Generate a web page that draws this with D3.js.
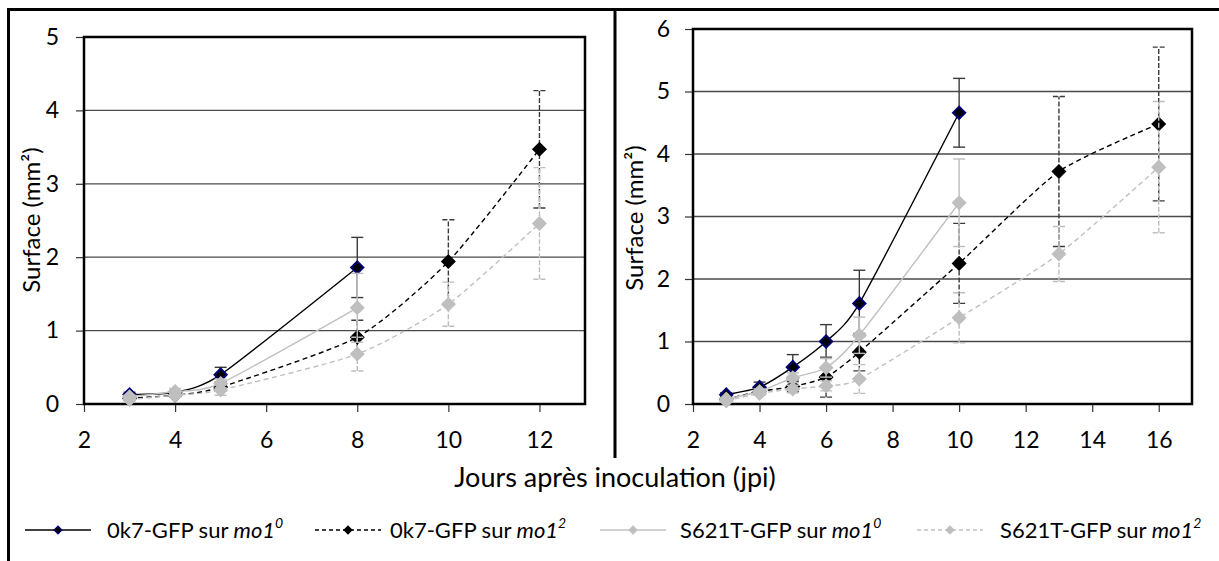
<!DOCTYPE html>
<html>
<head>
<meta charset="utf-8">
<script src="https://cdn.jsdelivr.net/npm/d3@7"></script>
<style>
  body { margin: 0; background: #fff; }
  svg { display: block; font-family: Lato, "Open Sans", sans-serif; }
</style>
</head>
<body>
<svg id="chart" width="1219" height="561"></svg>
<script>
// ---- data ----
// left panel
let leftDaysA = [3, 4, 5, 8];
let leftDaysB = [3, 4, 5, 8, 10, 12];
let left0k7Mo10 = [0.13, 0.16, 0.40, 1.86];
let left0k7Mo10Err = [0.03, 0.02, 0.10, 0.41];
let left0k7Mo12 = [0.08, 0.12, 0.23, 0.91, 1.94, 3.47];
let left0k7Mo12Err = [0.02, 0.03, 0.05, 0.23, 0.57, 0.80];
let leftS621TMo10 = [0.10, 0.17, 0.28, 1.31];
let leftS621TMo10Err = [0.02, 0.04, 0.06, 0.47];
let leftS621TMo12 = [0.06, 0.12, 0.19, 0.68, 1.36, 2.46];
let leftS621TMo12Err = [0.02, 0.03, 0.07, 0.23, 0.30, 0.76];

// right panel
let rightDaysA = [3, 4, 5, 6, 7, 10];
let rightDaysB = [3, 4, 5, 6, 7, 10, 13, 16];
let right0k7Mo10 = [0.15, 0.27, 0.59, 1.00, 1.61, 4.66];
let right0k7Mo10Err = [0.03, 0.08, 0.20, 0.27, 0.53, 0.55];
let right0k7Mo12 = [0.08, 0.20, 0.28, 0.43, 0.83, 2.25, 3.72, 4.48];
let right0k7Mo12Err = [0.02, 0.05, 0.08, 0.32, 0.30, 0.64, 1.20, 1.23];
let rightS621TMo10 = [0.08, 0.20, 0.42, 0.58, 1.10, 3.22];
let rightS621TMo10Err = [0.02, 0.04, 0.08, 0.15, 0.29, 0.70];
let rightS621TMo12 = [0.05, 0.17, 0.24, 0.29, 0.40, 1.38, 2.40, 3.79];
let rightS621TMo12Err = [0.02, 0.03, 0.06, 0.08, 0.23, 0.40, 0.44, 1.05];

let leftXTicks = [2, 4, 6, 8, 10, 12];
let leftYTicks = [0, 1, 2, 3, 4, 5];
let rightXTicks = [2, 4, 6, 8, 10, 12, 14, 16];
let rightYTicks = [0, 1, 2, 3, 4, 5, 6];

let seriesNames = ['0k7-GFP sur ', '0k7-GFP sur ', 'S621T-GFP sur ', 'S621T-GFP sur '];
let seriesSup = ['0', '2', '0', '2'];

// line / marker styles per series
let styles = [
  { line: '#000', dash: null, fill: '#000', stroke: '#00007a', err: '#3a3a3a', errDash: null },
  { line: '#000', dash: '5,3.5', fill: '#000', stroke: '#000', err: '#3a3a3a', errDash: '5,2' },
  { line: '#c0c0c0', dash: null, fill: '#bfbfbf', stroke: '#bfbfbf', err: '#bdbdbd', errDash: null },
  { line: '#c0c0c0', dash: '5,3.5', fill: '#bfbfbf', stroke: '#bfbfbf', err: '#bdbdbd', errDash: '5,2' }
];

function pts(days, vals, errs) {
  return d3.zip(days, vals, errs).map(d => ({ day: d[0], val: d[1], err: d[2] }));
}

let svg = d3.select('#chart');
svg.append('rect').attr('width', 1219).attr('height', 561).attr('fill', '#fff');

// outer frame + divider
svg.append('path')
  .attr('d', 'M8.5,561 L8.5,9.5 L1219,9.5 M615,9.5 L615,458')
  .attr('fill', 'none').attr('stroke', '#000').attr('stroke-width', 3);

let diamond = d3.symbol(d3.symbolSquare, 78);

function drawPanel(p) {
  let g = svg.append('g');
  let x = d3.scaleLinear().domain(p.xDomain).range([p.left, p.right]);
  let y = d3.scaleLinear().domain(p.yDomain).range([p.bottom, p.top]);

  // horizontal gridlines
  g.append('g').selectAll('line')
    .data(p.yTicks.filter(v => v > p.yDomain[0] && v < p.yDomain[1]))
    .join('line')
    .attr('x1', p.left).attr('x2', p.right)
    .attr('y1', d => y(d)).attr('y2', d => y(d))
    .attr('stroke', '#4a4a4a').attr('stroke-width', 1.3);

  // axes
  g.append('g')
    .attr('transform', `translate(${p.left},0)`)
    .call(d3.axisLeft(y).tickValues(p.yTicks).tickSize(8).tickPadding(p.yPad).tickFormat(d3.format('d')))
    .call(a => a.select('.domain').remove())
    .attr('font-size', 23).attr('font-family', null);
  g.append('g')
    .attr('transform', `translate(0,${p.bottom})`)
    .call(d3.axisBottom(x).tickValues(p.xTicks).tickSize(8).tickPadding(20).tickFormat(d3.format('d')))
    .call(a => a.select('.domain').remove())
    .attr('font-size', 23).attr('font-family', null);
  g.selectAll('.tick line').attr('stroke', '#333').attr('stroke-width', 1.2);

  // plot frame
  g.append('rect')
    .attr('x', p.left).attr('y', p.top)
    .attr('width', p.right - p.left).attr('height', p.bottom - p.top)
    .attr('fill', 'none').attr('stroke', '#000').attr('stroke-width', 2.5);

  // y axis title
  g.append('text')
    .attr('transform', `translate(${p.titleX},${p.titleY}) rotate(-90)`)
    .attr('text-anchor', 'middle')
    .attr('font-size', 24)
    .text('Surface (mm²)');

  let line = d3.line()
    .x(d => x(d.day)).y(d => y(d.val))
    .curve(d3.curveCardinal.tension(0.35));

  p.series.forEach(function(s, i) {
    let st = styles[i];
    let sg = g.append('g');
    // error bars
    let eb = sg.append('g').selectAll('g').data(s).join('g')
      .attr('stroke', st.err).attr('stroke-width', 1.4)
      .attr('stroke-dasharray', st.errDash);
    eb.append('line')
      .attr('x1', d => x(d.day)).attr('x2', d => x(d.day))
      .attr('y1', d => y(d.val - d.err)).attr('y2', d => y(d.val + d.err));
    eb.append('line')
      .attr('x1', d => x(d.day) - 6).attr('x2', d => x(d.day) + 6)
      .attr('y1', d => y(d.val + d.err)).attr('y2', d => y(d.val + d.err))
      .attr('stroke-dasharray', null);
    eb.append('line')
      .attr('x1', d => x(d.day) - 6).attr('x2', d => x(d.day) + 6)
      .attr('y1', d => y(d.val - d.err)).attr('y2', d => y(d.val - d.err))
      .attr('stroke-dasharray', null);
    // line
    sg.append('path')
      .datum(s)
      .attr('d', line)
      .attr('fill', 'none')
      .attr('stroke', st.line).attr('stroke-width', 1.4)
      .attr('stroke-dasharray', st.dash);
    // markers
    sg.append('g').selectAll('path').data(s).join('path')
      .attr('d', diamond)
      .attr('transform', d => `translate(${x(d.day)},${y(d.val)}) rotate(45)`)
      .attr('fill', st.fill).attr('stroke', st.stroke).attr('stroke-width', 1.8);
  });
}

drawPanel({
  left: 84, right: 585, top: 37, bottom: 404,
  xDomain: [2, 13], yDomain: [0, 5],
  xTicks: leftXTicks, yTicks: leftYTicks, yPad: 17,
  titleX: 40, titleY: 220,
  series: [
    pts(leftDaysA, left0k7Mo10, left0k7Mo10Err),
    pts(leftDaysB, left0k7Mo12, left0k7Mo12Err),
    pts(leftDaysA, leftS621TMo10, leftS621TMo10Err),
    pts(leftDaysB, leftS621TMo12, leftS621TMo12Err)
  ]
});

drawPanel({
  left: 693, right: 1192, top: 29, bottom: 404,
  xDomain: [2, 17], yDomain: [0, 6],
  xTicks: rightXTicks, yTicks: rightYTicks, yPad: 15,
  titleX: 643, titleY: 218,
  series: [
    pts(rightDaysA, right0k7Mo10, right0k7Mo10Err),
    pts(rightDaysB, right0k7Mo12, right0k7Mo12Err),
    pts(rightDaysA, rightS621TMo10, rightS621TMo10Err),
    pts(rightDaysB, rightS621TMo12, rightS621TMo12Err)
  ]
});

// shared x title
svg.append('text')
  .attr('x', 615).attr('y', 487)
  .attr('text-anchor', 'middle')
  .attr('font-size', 27)
  .text('Jours après inoculation (jpi)');

// legend
let legendX = [25, 315, 600, 917];
let legendTextX = [107, 390, 680, 1000];
let legendY = 530;
let smallDiamond = d3.symbol(d3.symbolSquare, 30);
let lg = svg.append('g');
seriesNames.forEach(function(name, i) {
  let st = styles[i];
  lg.append('line')
    .attr('x1', legendX[i]).attr('x2', legendX[i] + 66)
    .attr('y1', legendY).attr('y2', legendY)
    .attr('stroke', st.line).attr('stroke-width', 1.3)
    .attr('stroke-dasharray', st.dash ? '4,3' : null);
  lg.append('path')
    .attr('d', smallDiamond)
    .attr('transform', `translate(${legendX[i] + 33},${legendY}) rotate(45)`)
    .attr('fill', st.fill).attr('stroke', st.stroke).attr('stroke-width', 1.2);
  let t = lg.append('text')
    .attr('x', legendTextX[i]).attr('y', legendY + 8)
    .attr('font-size', 22);
  t.append('tspan').text(name);
  t.append('tspan').attr('font-style', 'italic').text('mo1');
  t.append('tspan').attr('font-style', 'italic').attr('font-size', 14).attr('dy', -10).text(seriesSup[i]);
});
</script>
</body>
</html>
